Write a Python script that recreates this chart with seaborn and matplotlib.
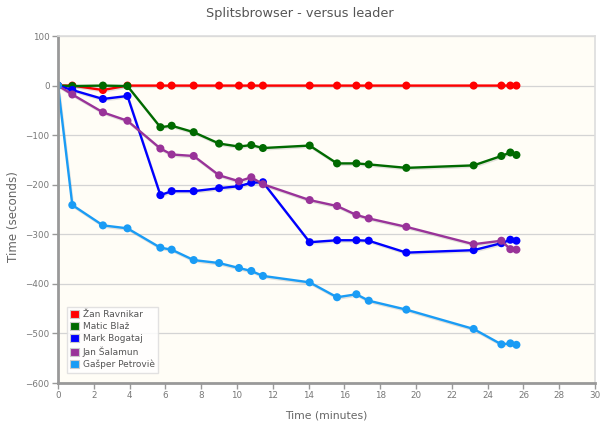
import matplotlib
matplotlib.use("Agg")
import matplotlib.pyplot as plt
import matplotlib.patheffects as pe
from matplotlib.patches import Patch
import seaborn as sns
import pandas as pd

# Shared x positions (leader's cumulative time, minutes)
minutes = [0, 0.80, 2.51, 3.88, 5.72, 6.35, 7.58, 9.00, 10.11, 10.80, 11.45,
           14.06, 15.59, 16.67, 17.36, 19.46, 23.22, 24.77, 25.27, 25.61]

runners = ["Žan Ravnikar", "Matic Blaž", "Mark Bogataj", "Jan Šalamun", "Gašper Petroviè"]

zan = [0, 0, -9, 0, 0, 0, 0, 0, 0, 0, 0, 0, 0, 0, 0, 0, 0, 0, 0, 0]
matic = [0, -1, 0, -1, -84, -81, -94, -117, -123, -120, -126,
         -121, -157, -157, -159, -166, -161, -142, -135, -140]
mark = [0, -9, -27, -21, -221, -213, -213, -207, -203, -196, -195,
        -316, -312, -312, -313, -337, -332, -318, -311, -313]
jan = [0, -18, -54, -71, -127, -139, -142, -181, -193, -185, -199,
       -231, -243, -261, -268, -285, -320, -313, -330, -331]
gasper = [0, -241, -282, -288, -327, -331, -352, -358, -368, -374, -384,
          -397, -427, -421, -434, -452, -491, -522, -520, -523]

colors = ["#ff0000", "#006a00", "#0000ff", "#993399", "#1a9cf5"]

series = [zan, matic, mark, jan, gasper]
rows = []
for name, vals in zip(runners, series):
    for m, v in zip(minutes, vals):
        rows.append({"runner": name, "minutes": m, "seconds": v})
df = pd.DataFrame(rows)

sns.set_theme(style="white")
plt.rcParams['font.family'] = ['DejaVu Sans']

fig = plt.figure(figsize=(6.0, 4.29), dpi=100)
ax = fig.add_axes([58/600, 1 - 383/429, (595-58)/600, (383-36)/429])
ax.set_facecolor("#fffdf6")

pal = dict(zip(runners, colors))
sns.lineplot(data=df, x="minutes", y="seconds", hue="runner", hue_order=runners,
             palette=pal, marker="o", markersize=5.8, markeredgewidth=0,
             linewidth=1.7, sort=False, legend=False, ax=ax)
for ln in ax.get_lines():
    ln.set_path_effects([pe.SimpleLineShadow(offset=(0.6, -1.0), shadow_color="k", alpha=0.12),
                         pe.Normal()])

ax.set_xlim(0, 30)
ax.set_ylim(-600, 100)
ax.set_xticks(range(0, 31, 2))
ax.set_yticks(range(-600, 101, 100))
ax.yaxis.grid(True, color="#d4d4d4", linewidth=0.9)
ax.xaxis.grid(False)
ax.set_axisbelow(True)

for s in ["left", "bottom"]:
    ax.spines[s].set_color("#999999")
    ax.spines[s].set_linewidth(2)
for s in ["top", "right"]:
    ax.spines[s].set_color("#dddddd")
    ax.spines[s].set_linewidth(1.2)

ax.tick_params(axis="both", which="both", direction="out", length=4, width=1,
               color="#999999", labelsize=6.3, labelcolor="#777777", pad=2,
               bottom=True, left=True)

ax.set_xlabel("Time (minutes)", fontsize=7.8, color="#666666", labelpad=7)
ax.set_ylabel("Time (seconds)", fontsize=8.6, color="#666666", labelpad=6)
ax.yaxis.set_label_coords(-0.07, 0.48)
fig.suptitle("Splitsbrowser - versus leader", x=0.5, y=1 - 14/429,
             va="center", fontsize=9.3, color="#555555")

handles = [Patch(facecolor=c, edgecolor="#cccccc", linewidth=0.8) for c in colors]
leg = ax.legend(handles, runners, loc="lower left", bbox_to_anchor=(0.017, 0.03),
                fontsize=6.5, frameon=True, fancybox=False, handlelength=1.0,
                handleheight=1.0, handletextpad=0.4, labelspacing=0.33,
                borderpad=0.35, borderaxespad=0)
leg.get_frame().set_edgecolor("#dddddd")
leg.get_frame().set_facecolor("#ffffff")
leg.get_frame().set_alpha(0.85)
for t in leg.get_texts():
    t.set_color("#555555")

fig.savefig("out.png", dpi=100)
